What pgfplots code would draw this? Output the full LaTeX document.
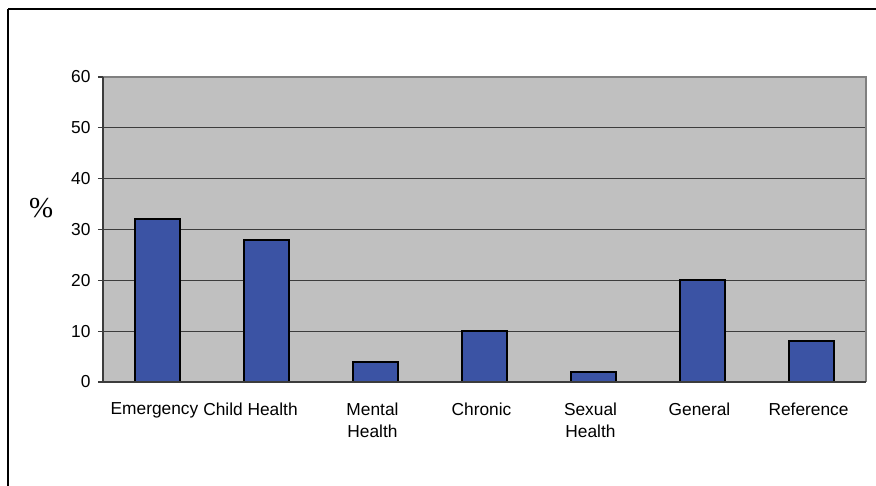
\documentclass[border=0pt]{standalone}
\usepackage{pgfplots}
\pgfplotsset{compat=1.18}
\usepackage{fontspec}
\setmainfont{Liberation Sans}
\newfontfamily\seriffont{Liberation Serif}
\definecolor{barblue}{RGB}{59,83,164}
\definecolor{plotgray}{RGB}{192,192,192}
\definecolor{gridgray}{RGB}{60,60,60}
\definecolor{framegray}{RGB}{128,128,128}

\begin{document}
\begin{tikzpicture}[x=1bp,y=1bp]
\useasboundingbox (0,0) rectangle (876,486);
% outer chart frame (top and left edges)
\draw[line width=1.2bp,black] (8,477) -- (876,477);
\draw[line width=1.2bp,black] (8,477) -- (8,0);
\begin{axis}[
  at={(103bp,104bp)}, anchor=south west,
  scale only axis,
  width=763bp, height=305bp,
  xmin=-0.5, xmax=6.5,
  ymin=0, ymax=60,
  ytick={0,10,...,60},
  xtick={0,...,6},
  xtick pos=bottom, ytick pos=left,
  xticklabels={Emergency,Child Health\hspace*{26bp},Mental\\Health,Chronic,Sexual\\Health,General,Reference},
  xticklabel style={align=center, font=\fontsize{17.4}{22.5}\selectfont, yshift=-12bp, xshift=-3bp},
  major x tick style={draw=none},
  extra x ticks={-0.5,0.5,...,6.5},
  extra x tick labels={},
  extra x tick style={major tick length=6bp, tick style={draw=gridgray, line width=1bp}, grid=none},
  yticklabel style={font=\fontsize{17.4}{20}\selectfont, xshift=-4bp},
  /pgf/number format/assume math mode=true,
  tick align=outside,
  major tick length=5bp,
  ymajorgrids,
  major grid style={draw=gridgray, line width=1.1bp},
  y tick style={draw=gridgray, line width=1.1bp},
  axis background/.style={fill=plotgray},
  axis line style={draw=none},
  ylabel={\seriffont\fontsize{29}{29}\selectfont\%},
  ylabel style={rotate=-90, at={(axis description cs:-0.081,0.57)}, anchor=center},
  clip=false,
]
\addplot[ybar, bar width=45bp, fill=barblue, draw=black, line width=1.8bp]
  coordinates {(0,32) (1,28) (2,4) (3,10) (4,2) (5,20) (6,8)};
% plot area borders
\draw[framegray, line width=1.4bp] (rel axis cs:0,1) -- (rel axis cs:1,1) -- (rel axis cs:1,0);
\draw[gridgray, line width=1.3bp] (rel axis cs:0,1) -- (rel axis cs:0,0) -- (rel axis cs:1,0);
\end{axis}
\end{tikzpicture}
\end{document}
